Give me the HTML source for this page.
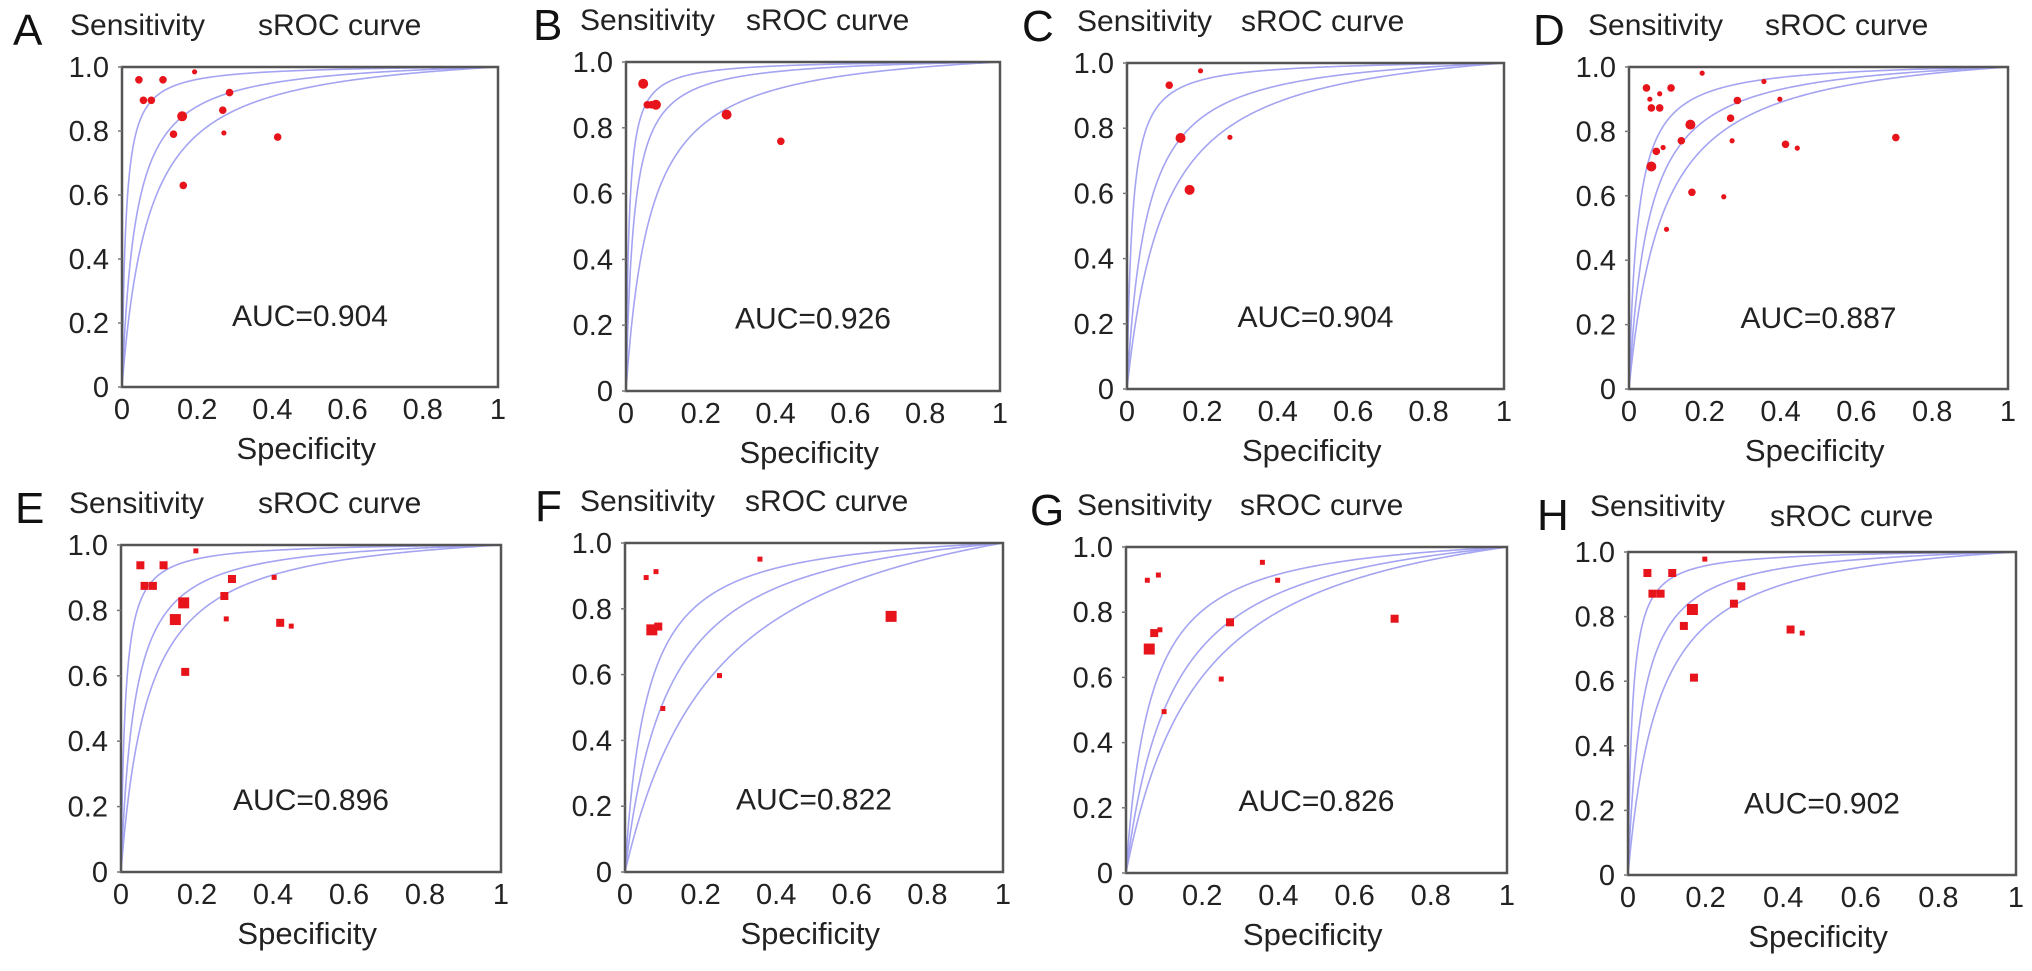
<!DOCTYPE html>
<html><head><meta charset="utf-8"><style>
html,body{margin:0;padding:0;background:#fff;}
svg{display:block;font-family:"Liberation Sans",Arial,sans-serif;}
</style></head><body>
<svg id="fig" width="2032" height="971" viewBox="0 0 2032 971" xmlns="http://www.w3.org/2000/svg"></svg>
<script>
// ---- data ----
const panelLetters = ["A","B","C","D","E","F","G","H"];
const aucLabels = ["AUC=0.904","AUC=0.926","AUC=0.904","AUC=0.887","AUC=0.896","AUC=0.822","AUC=0.826","AUC=0.902"];
const yTickVals = [0,0.2,0.4,0.6,0.8,1.0];
const yTickLabels = ["0","0.2","0.4","0.6","0.8","1.0"];
const xTickVals = [0,0.2,0.4,0.6,0.8,1];
const xTickLabels = ["0","0.2","0.4","0.6","0.8","1"];
// curve discrimination parameters (logit(sens)=D+logit(1-spec)), three curves per panel
const curveD = [[2.7,3.35,4.6],[2.8,3.9,4.8],[2.4,3.0,4.3],[2.5,3.0,3.8],[2.7,3.35,4.5],[1.6,2.25,2.9],[1.8,2.2,2.8],[2.6,3.35,4.5]];
// study points: x (1-specificity), y (sensitivity), size class (0 small,1 normal,2 big)
const ptsX_A=[0.045,0.057,0.078,0.109,0.193,0.160,0.137,0.286,0.268,0.271,0.414,0.163];
const ptsY_A=[0.96,0.896,0.896,0.96,0.985,0.846,0.79,0.92,0.865,0.794,0.781,0.63];
const ptsS_A=[1,1,1,1,0,2,1,1,1,0,1,1];
const ptsX_B=[0.046,0.057,0.068,0.080,0.269,0.414];
const ptsY_B=[0.934,0.870,0.870,0.870,0.840,0.759];
const ptsS_B=[2,1,1,2,2,1];
const ptsX_C=[0.112,0.195,0.142,0.166,0.273];
const ptsY_C=[0.932,0.976,0.770,0.611,0.772];
const ptsS_C=[1,0,2,2,0];
const ptsX_D=[0.046,0.055,0.081,0.059,0.081,0.111,0.193,0.162,0.138,0.072,0.090,0.059,0.166,0.099,0.250,0.268,0.272,0.286,0.356,0.398,0.413,0.444,0.704];
const ptsY_D=[0.935,0.9,0.917,0.873,0.873,0.935,0.981,0.821,0.771,0.738,0.75,0.691,0.611,0.496,0.597,0.841,0.771,0.896,0.955,0.9,0.76,0.748,0.781];
const ptsS_D=[1,0,0,1,1,1,0,2,1,1,0,2,1,0,0,1,0,1,0,0,1,0,1];
const ptsX_E=[0.051,0.112,0.197,0.062,0.084,0.165,0.143,0.169,0.292,0.272,0.277,0.403,0.419,0.448];
const ptsY_E=[0.938,0.938,0.982,0.875,0.875,0.823,0.772,0.612,0.896,0.844,0.774,0.901,0.762,0.752];
const ptsS_E=[1,1,0,1,1,2,2,1,1,1,0,0,1,0];
const ptsX_F=[0.056,0.082,0.357,0.071,0.088,0.1,0.25,0.704];
const ptsY_F=[0.895,0.913,0.951,0.736,0.746,0.497,0.597,0.777];
const ptsS_F=[0,0,0,2,1,0,0,2];
const ptsX_G=[0.056,0.085,0.358,0.398,0.061,0.074,0.089,0.273,0.250,0.1,0.705];
const ptsY_G=[0.898,0.914,0.953,0.898,0.687,0.736,0.746,0.769,0.595,0.495,0.780];
const ptsS_G=[0,0,0,0,2,1,0,1,0,0,1];
const ptsX_H=[0.050,0.114,0.198,0.063,0.084,0.166,0.144,0.170,0.273,0.292,0.419,0.449];
const ptsY_H=[0.935,0.935,0.978,0.871,0.871,0.822,0.771,0.611,0.840,0.894,0.760,0.749];
const ptsS_H=[1,1,0,1,1,2,1,1,1,1,1,0];
const allX=[ptsX_A,ptsX_B,ptsX_C,ptsX_D,ptsX_E,ptsX_F,ptsX_G,ptsX_H];
const allY=[ptsY_A,ptsY_B,ptsY_C,ptsY_D,ptsY_E,ptsY_F,ptsY_G,ptsY_H];
const allS=[ptsS_A,ptsS_B,ptsS_C,ptsS_D,ptsS_E,ptsS_F,ptsS_G,ptsS_H];

// ---- layout ----
const boxes=[[122,67,498,387],[626,62,1000,391],[1127,63,1504,389],[1629,67,2008,389],
             [121,545,501,872],[625,543,1003,872],[1126,547,1507,873],[1628,552,2016,875]];
const titleOff=[[-109,-52,136],[-93,-46,120],[-105,-50,114],[-96,-41,136],[-106,-52,137],[-90,-45,120],[-96,-49,114],[-91,-38,142]];
const NS="http://www.w3.org/2000/svg";
const svg=document.getElementById('fig');
function mk(tag,attrs,parent,text){const e=document.createElementNS(NS,tag);for(const k in attrs)e.setAttribute(k,attrs[k]);if(text!==undefined)e.textContent=text;parent.appendChild(e);return e;}

boxes.forEach((b,i)=>{
  const [L,T,R,B]=b, W=R-L, H=B-T;
  const sx=v=>L+v*W, sy=v=>B-v*H;
  const g=mk('g',{},svg);
  
  
  const o=titleOff[i];
  const lt=mk('text',{x:L+o[0],y:T-22,'font-size':44,fill:'#111'},g,panelLetters[i]);
  
  
  const st=mk('text',{x:L+o[1],y:T-32+(i==7?-4:0),'font-size':30,fill:'#222'},g,'Sensitivity');
  
  
  const rt=mk('text',{x:L+o[2],y:T-32+(i==7?6:0),'font-size':30,fill:'#222'},g,'sROC curve');
  
  
  // curves
  curveD[i].forEach((D,k)=>{
    let d='';
    for(let j=0;j<=400;j++){
      const x=Math.pow(j/400,2.2);
      const e=Math.exp(D);
      const y=x*e/(1-x+x*e);
      d+=(j?'L':'M')+sx(x).toFixed(2)+','+sy(y).toFixed(2);
    }
    const p=mk('path',{d:d,fill:'none',stroke:'#a4a4f2','stroke-width':1.6},g);
    
    
  });
  // points
  const isSq=i>=4;
  allX[i].forEach((xv,k)=>{
    const s=allS[i][k];
    let m;
    if(isSq){
      const h=[2.5,4,5.5][s];
      m=mk('rect',{x:sx(xv)-h,y:sy(allY[i][k])-h,width:2*h,height:2*h,fill:'#e8141c'},g);
    } else {
      const r=[2.6,3.8,5][s];
      m=mk('circle',{cx:sx(xv),cy:sy(allY[i][k]),r:r,fill:'#e8141c'},g);
    }
    
    
  });
  // frame
  const fr=mk('rect',{x:L,y:T,width:W,height:H,fill:'none',stroke:'#555','stroke-width':2.5},g);
  
  
  // y ticks
  yTickVals.forEach((v,k)=>{
    mk('line',{x1:L-4,x2:L,y1:sy(v),y2:sy(v),stroke:'#777','stroke-width':1.5},g);
    const t=mk('text',{x:L-13,y:sy(v)+10,'font-size':29,fill:'#222','text-anchor':'end'},g,yTickLabels[k]);
    
    
  });
  xTickVals.forEach((v,k)=>{
    const t=mk('text',{x:sx(v),y:B+32,'font-size':29,fill:'#222','text-anchor':'middle'},g,xTickLabels[k]);
    
    
  });
  const xt=mk('text',{x:L+W*0.49,y:B+72,'font-size':31,fill:'#222','text-anchor':'middle'},g,'Specificity');
  
  
  const at=mk('text',{x:L+W*0.5,y:sy(0.19),'font-size':30,fill:'#222','text-anchor':'middle'},g,aucLabels[i]);
  
  
});
</script>
</body></html>
